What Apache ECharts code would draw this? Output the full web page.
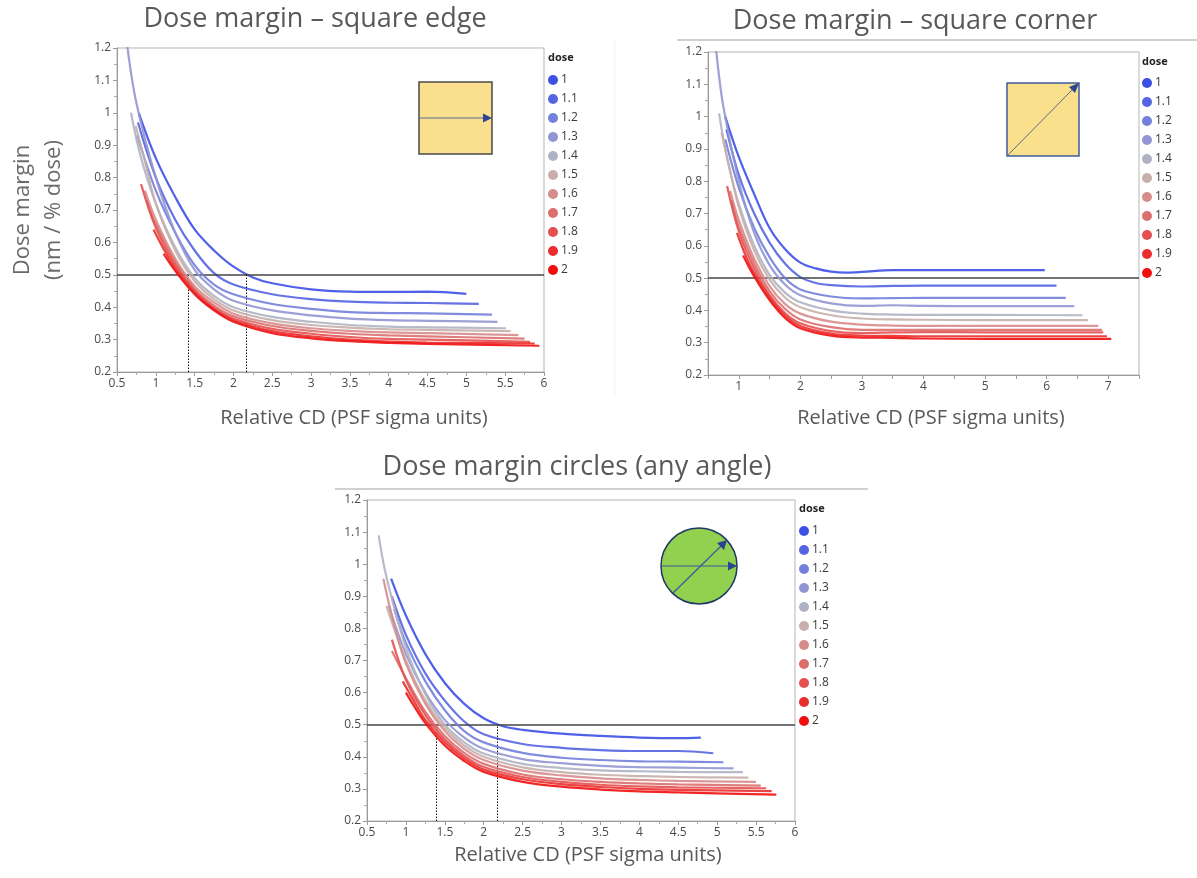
<!DOCTYPE html>
<html>
<head>
<meta charset="utf-8">
<script src="https://cdn.jsdelivr.net/npm/echarts@6/dist/echarts.min.js"></script>
<style>
html,body{margin:0;padding:0;background:#fff;}
#chart{width:1197px;height:878px;}
</style>
</head>
<body>
<div id="chart"></div>
<script>
// ---------- DATA ----------
const doses = ['1','1.1','1.2','1.3','1.4','1.5','1.6','1.7','1.8','1.9','2'];
const doseColors = ['#3c50e6','#5564e1','#7380dc','#9196d2','#afb2c3','#c8afab','#d78c8c','#dc6e6e','#e45050','#eb2d2d','#f00f0f'];

const panelTitles = ['Dose margin \u2013 square edge', 'Dose margin \u2013 square corner', 'Dose margin circles (any angle)'];
const xAxisTitle = 'Relative CD (PSF sigma units)';
const yAxisTitle = 'Dose margin\n(nm / % dose)';
const threshold = 0.5;
const edgeCrossings = [1.42, 2.16];
const circleCrossings = [1.39, 2.18];

// square edge: one [x, y] list per dose
const edgeCurves = [
  [[0.78,1.0],[1.0,0.86],[1.25,0.74],[1.5,0.64],[1.75,0.575],[2.0,0.525],[2.25,0.492],[2.5,0.474],[3,0.455],[3.5,0.448],[4,0.447],[4.5,0.448],[5.0,0.441]],
  [[0.77,0.97],[1.0,0.80],[1.25,0.67],[1.5,0.575],[1.75,0.505],[2.0,0.47],[2.5,0.44],[3,0.425],[3.5,0.417],[4,0.414],[4.5,0.413],[5.16,0.41]],
  [[0.76,0.93],[1.0,0.76],[1.25,0.63],[1.5,0.53],[1.75,0.47],[2.0,0.44],[2.5,0.41],[3,0.395],[3.5,0.385],[4,0.382],[4.5,0.381],[5.33,0.377]],
  [[0.63,1.21],[0.75,1.03],[1.0,0.80],[1.25,0.63],[1.5,0.515],[1.75,0.455],[2.0,0.42],[2.5,0.39],[3,0.375],[3.5,0.365],[4,0.36],[4.5,0.358],[5.4,0.355]],
  [[0.68,1.0],[0.8,0.87],[1.0,0.72],[1.25,0.585],[1.5,0.49],[1.75,0.435],[2.0,0.40],[2.5,0.37],[3,0.355],[3.5,0.345],[4,0.34],[4.5,0.338],[5.51,0.335]],
  [[0.74,0.96],[0.85,0.86],[1.0,0.72],[1.25,0.575],[1.5,0.48],[1.75,0.425],[2.0,0.39],[2.5,0.36],[3,0.345],[3.5,0.337],[4,0.332],[4.5,0.33],[5.57,0.326]],
  [[0.86,0.76],[1.0,0.67],[1.25,0.55],[1.5,0.465],[1.75,0.415],[2.0,0.38],[2.5,0.35],[3,0.335],[3.5,0.327],[4,0.322],[4.5,0.32],[5.67,0.314]],
  [[0.88,0.73],[1.0,0.655],[1.25,0.54],[1.5,0.457],[1.75,0.405],[2.0,0.372],[2.5,0.342],[3,0.327],[3.5,0.318],[4,0.313],[4.5,0.31],[5.75,0.303]],
  [[0.81,0.78],[1.0,0.645],[1.25,0.53],[1.5,0.45],[1.75,0.398],[2.0,0.365],[2.5,0.333],[3,0.318],[3.5,0.308],[4,0.302],[4.5,0.3],[5.82,0.293]],
  [[0.97,0.64],[1.1,0.58],[1.25,0.52],[1.5,0.445],[1.75,0.393],[2.0,0.36],[2.5,0.326],[3,0.31],[3.5,0.3],[4,0.294],[4.5,0.291],[5.88,0.288]],
  [[1.1,0.565],[1.25,0.512],[1.5,0.44],[1.75,0.39],[2.0,0.355],[2.5,0.32],[3,0.304],[3.5,0.295],[4,0.29],[4.5,0.287],[5.94,0.281]]
];

// square corner
const cornerCurves = [
  [[0.78,1.0],[1.0,0.875],[1.25,0.76],[1.5,0.655],[1.75,0.59],[2.0,0.548],[2.25,0.53],[2.5,0.52],[2.75,0.517],[3,0.519],[3.5,0.525],[4,0.525],[5,0.525],[5.97,0.525]],
  [[0.8,0.96],[1.0,0.82],[1.25,0.70],[1.5,0.61],[1.75,0.545],[2.0,0.503],[2.25,0.485],[2.5,0.478],[3,0.474],[3.5,0.476],[4,0.477],[5,0.477],[6.16,0.477]],
  [[0.78,0.93],[1.0,0.78],[1.25,0.655],[1.5,0.565],[1.75,0.5],[2.0,0.465],[2.5,0.443],[3,0.437],[3.5,0.438],[4,0.439],[5,0.439],[6.31,0.439]],
  [[0.63,1.21],[0.75,1.03],[1.0,0.80],[1.25,0.64],[1.5,0.54],[1.75,0.48],[2.0,0.447],[2.5,0.422],[3,0.414],[3.5,0.416],[4,0.414],[5,0.413],[6.45,0.413]],
  [[0.68,1.01],[0.8,0.88],[1.0,0.73],[1.25,0.6],[1.5,0.51],[1.75,0.455],[2.0,0.425],[2.5,0.4],[3,0.39],[3.5,0.387],[4,0.386],[5,0.386],[6.58,0.385]],
  [[0.72,0.95],[0.85,0.84],[1.0,0.72],[1.25,0.585],[1.5,0.495],[1.75,0.44],[2.0,0.41],[2.5,0.385],[3,0.375],[3.5,0.372],[4,0.371],[5,0.37],[6.67,0.37]],
  [[0.86,0.77],[1.0,0.68],[1.25,0.56],[1.5,0.475],[1.75,0.42],[2.0,0.39],[2.5,0.365],[3,0.356],[3.5,0.353],[4,0.352],[5,0.352],[6.84,0.352]],
  [[0.88,0.74],[1.0,0.66],[1.25,0.545],[1.5,0.46],[1.75,0.405],[2.0,0.372],[2.5,0.348],[3,0.34],[3.5,0.34],[4,0.34],[5,0.34],[6.9,0.34]],
  [[0.81,0.785],[1.0,0.645],[1.25,0.53],[1.5,0.447],[1.75,0.392],[2.0,0.36],[2.5,0.336],[3,0.33],[3.5,0.332],[4,0.333],[5,0.332],[6.92,0.332]],
  [[0.97,0.64],[1.1,0.575],[1.25,0.515],[1.5,0.44],[1.75,0.385],[2.0,0.352],[2.5,0.328],[3,0.322],[3.5,0.321],[4,0.32],[5,0.32],[6.98,0.32]],
  [[1.07,0.57],[1.25,0.505],[1.5,0.432],[1.75,0.377],[2.0,0.345],[2.5,0.322],[3,0.316],[3.5,0.315],[4,0.313],[5,0.312],[7.05,0.312]]
];

// circles
const circleCurves = [
  [[0.81,0.955],[1.0,0.84],[1.25,0.72],[1.5,0.63],[1.75,0.565],[2.0,0.52],[2.25,0.495],[2.5,0.484],[3,0.472],[3.5,0.465],[4,0.46],[4.5,0.458],[4.79,0.46]],
  [[0.82,0.9],[1.0,0.78],[1.25,0.66],[1.5,0.575],[1.75,0.51],[2.0,0.47],[2.5,0.44],[3,0.428],[3.5,0.421],[4,0.418],[4.5,0.418],[4.95,0.411]],
  [[0.85,0.86],[1.0,0.755],[1.25,0.635],[1.5,0.545],[1.75,0.48],[2.0,0.445],[2.5,0.412],[3,0.397],[3.5,0.39],[4,0.386],[4.5,0.385],[5.08,0.383]],
  [[0.78,0.87],[1.0,0.72],[1.25,0.6],[1.5,0.515],[1.75,0.46],[2.0,0.425],[2.5,0.393],[3,0.38],[3.5,0.372],[4,0.368],[4.5,0.366],[5.21,0.364]],
  [[0.65,1.09],[0.75,0.96],[1.0,0.74],[1.25,0.595],[1.5,0.5],[1.75,0.445],[2.0,0.41],[2.5,0.378],[3,0.365],[3.5,0.358],[4,0.355],[4.5,0.353],[5.33,0.352]],
  [[0.75,0.87],[1.0,0.7],[1.25,0.575],[1.5,0.49],[1.75,0.435],[2.0,0.4],[2.5,0.367],[3,0.352],[3.5,0.344],[4,0.34],[4.5,0.337],[5.4,0.335]],
  [[0.71,0.955],[0.85,0.81],[1.0,0.69],[1.25,0.565],[1.5,0.48],[1.75,0.425],[2.0,0.39],[2.5,0.357],[3,0.342],[3.5,0.333],[4,0.328],[4.5,0.325],[5.5,0.322]],
  [[0.82,0.73],[1.0,0.645],[1.25,0.54],[1.5,0.465],[1.75,0.412],[2.0,0.378],[2.5,0.345],[3,0.33],[3.5,0.322],[4,0.317],[4.5,0.314],[5.56,0.31]],
  [[0.82,0.765],[1.0,0.64],[1.25,0.53],[1.5,0.455],[1.75,0.403],[2.0,0.368],[2.5,0.337],[3,0.322],[3.5,0.313],[4,0.308],[4.5,0.305],[5.63,0.302]],
  [[0.96,0.635],[1.1,0.575],[1.25,0.515],[1.5,0.445],[1.75,0.395],[2.0,0.36],[2.5,0.33],[3,0.315],[3.5,0.306],[4,0.3],[4.5,0.297],[5.7,0.293]],
  [[1.0,0.6],[1.1,0.56],[1.25,0.505],[1.5,0.435],[1.75,0.387],[2.0,0.353],[2.5,0.322],[3,0.307],[3.5,0.298],[4,0.292],[4.5,0.289],[5.76,0.282]]
];

// ---------- CHART ----------
const FONT = '"Open Sans", "Noto Sans", sans-serif';
const chart = echarts.init(document.getElementById('chart'), null, {renderer: 'canvas'});

const grids = [
  {left: 117, top: 48, width: 427, height: 324},
  {left: 708, top: 52, width: 431, height: 323},
  {left: 367, top: 500, width: 428, height: 321}
];
const xRanges = [[0.5, 6, 0.5, false], [0.5, 7.5, 0.5, true], [0.5, 6, 0.5, false]];

const axisLabelStyle = {color: '#4a4a4a', fontSize: 12, fontFamily: FONT, margin: 6};
const xAxes = xRanges.map((r, i) => ({
  type: 'value', gridIndex: i, min: r[0], max: r[1], interval: r[2],
  axisLine: {show: true, lineStyle: {color: '#9a9a9a'}},
  axisTick: {show: true, length: 4, lineStyle: {color: '#9a9a9a'}},
  minorTick: {show: !r[3], splitNumber: 2, length: 3, lineStyle: {color: '#aaa'}},
  splitLine: {show: false},
  axisLabel: Object.assign({}, axisLabelStyle, {
    formatter: r[3] ? (v => (Math.abs(v - Math.round(v)) < 1e-6 ? String(Math.round(v)) : '')) : (v => String(+v.toFixed(2)))
  })
}));
const yAxes = [0, 1, 2].map(i => ({
  type: 'value', gridIndex: i, min: 0.2, max: 1.2, interval: 0.1,
  axisLine: {show: true, lineStyle: {color: '#9a9a9a'}},
  axisTick: {show: true, length: 4, lineStyle: {color: '#9a9a9a'}},
  minorTick: {show: true, splitNumber: 2, length: 3, lineStyle: {color: '#aaa'}},
  splitLine: {show: false},
  axisLabel: Object.assign({}, axisLabelStyle, {formatter: v => String(+v.toFixed(2))}),
  name: i === 0 ? yAxisTitle : '',
  nameLocation: 'middle', nameRotate: 90, nameGap: 48,
  nameTextStyle: {color: '#6b6b6b', fontSize: 22, fontFamily: FONT, lineHeight: 31}
}));

const panels = [edgeCurves, cornerCurves, circleCurves];
const crossings = [edgeCrossings, null, circleCrossings];
const series = [];
panels.forEach((curves, pi) => {
  curves.forEach((pts, di) => {
    series.push({
      type: 'line', name: doses[di], xAxisIndex: pi, yAxisIndex: pi,
      data: pts, smooth: 0.35, showSymbol: false, symbol: 'circle',
      lineStyle: {width: 2.2, color: doseColors[di], opacity: 0.9},
      itemStyle: {color: doseColors[di]},
      z: 3 + di, silent: true, clip: true
    });
  });
  const ml = [{yAxis: threshold, lineStyle: {color: '#444', width: 1.5, type: 'solid'}}];
  if (crossings[pi]) {
    crossings[pi].forEach(x => {
      ml.push([{coord: [x, 0.2], lineStyle: {color: '#111', width: 1, type: [1.5, 1.5]}}, {coord: [x, threshold]}]);
    });
  }
  series.push({
    type: 'line', xAxisIndex: pi, yAxisIndex: pi, data: [], silent: true, z: 20,
    markLine: {silent: true, symbol: 'none', label: {show: false}, animation: false, data: ml}
  });
});

const legendTops = [69, 72, 520];
const legendLefts = [543, 1137, 794];
const legends = [0, 1, 2].map(i => ({
  data: doses, orient: 'vertical', left: legendLefts[i], top: legendTops[i],
  icon: 'circle', itemWidth: 10, itemHeight: 10, itemGap: 7, selectedMode: false,
  textStyle: {color: '#3a3a3a', fontSize: 12, fontFamily: FONT, padding: [0, 0, 0, -2]}
}));

function text(x, y, t, size, extra) {
  return {type: 'text', x: x, y: y, silent: true,
    style: Object.assign({text: t, fill: '#595959', font: size + 'px ' + FONT, textAlign: 'center', textVerticalAlign: 'middle'}, extra || {})};
}

const graphics = [
  text(315, 19, panelTitles[0], 27),
  text(915, 21, panelTitles[1], 27),
  text(577, 467, panelTitles[2], 27),
  text(354, 418, xAxisTitle, 20),
  text(931, 418, xAxisTitle, 20),
  text(588, 855, xAxisTitle, 20),
  text(548, 58, 'dose', 0, {font: 'bold 11px ' + FONT, fill: '#222', textAlign: 'left'}),
  text(1142, 62, 'dose', 0, {font: 'bold 11px ' + FONT, fill: '#222', textAlign: 'left'}),
  text(799, 509, 'dose', 0, {font: 'bold 11px ' + FONT, fill: '#222', textAlign: 'left'}),
  // title underlines
  {type: 'line', shape: {x1: 677, y1: 40, x2: 1197, y2: 40}, style: {stroke: '#d0d0d0', lineWidth: 2}, silent: true},
  {type: 'line', shape: {x1: 335, y1: 489, x2: 868, y2: 489}, style: {stroke: '#d0d0d0', lineWidth: 2}, silent: true},
  {type: 'line', shape: {x1: 615, y1: 40, x2: 615, y2: 397}, style: {stroke: '#f3f3f3', lineWidth: 1}, silent: true},
  // inset 1: square with horizontal arrow
  {type: 'rect', shape: {x: 419, y: 82, width: 73, height: 72}, style: {fill: '#fadf8c', stroke: '#4a4a4a', lineWidth: 1.5}, silent: true},
  {type: 'line', shape: {x1: 419, y1: 118, x2: 486, y2: 118}, style: {stroke: '#5a6a90', lineWidth: 1}, silent: true},
  {type: 'polygon', shape: {points: [[492, 118], [483, 113.5], [483, 122.5]]}, style: {fill: '#2b4591'}, silent: true},
  // inset 2: square with diagonal arrow
  {type: 'rect', shape: {x: 1007, y: 83, width: 72, height: 73}, style: {fill: '#fadf8c', stroke: '#3f5c9c', lineWidth: 1.5}, silent: true},
  {type: 'line', shape: {x1: 1007, y1: 156, x2: 1073, y2: 89}, style: {stroke: '#5a6a90', lineWidth: 1}, silent: true},
  {type: 'polygon', shape: {points: [[1079, 83], [1075, 93], [1069, 87]]}, style: {fill: '#2b4591'}, silent: true},
  // inset 3: circle with arrows
  {type: 'circle', shape: {cx: 699, cy: 566, r: 38}, style: {fill: '#92d050', stroke: '#1f3864', lineWidth: 1.5}, silent: true},
  {type: 'line', shape: {x1: 661, y1: 566, x2: 730, y2: 566}, style: {stroke: '#3a5a9a', lineWidth: 1.2}, silent: true},
  {type: 'polygon', shape: {points: [[737, 566], [728, 561.5], [728, 570.5]]}, style: {fill: '#2b4591'}, silent: true},
  {type: 'line', shape: {x1: 673, y1: 593, x2: 721, y2: 546}, style: {stroke: '#3a5a9a', lineWidth: 1.2}, silent: true},
  {type: 'polygon', shape: {points: [[727, 540], [724, 550], [717, 543]]}, style: {fill: '#2b4591'}, silent: true}
];

chart.setOption({
  animation: false,
  backgroundColor: '#ffffff',
  grid: grids.map(g => Object.assign({show: true, borderColor: '#b5b5b5', borderWidth: 1, backgroundColor: 'transparent', containLabel: false}, g)),
  xAxis: xAxes,
  yAxis: yAxes,
  legend: legends,
  series: series,
  graphic: graphics
});
</script>
</body>
</html>
